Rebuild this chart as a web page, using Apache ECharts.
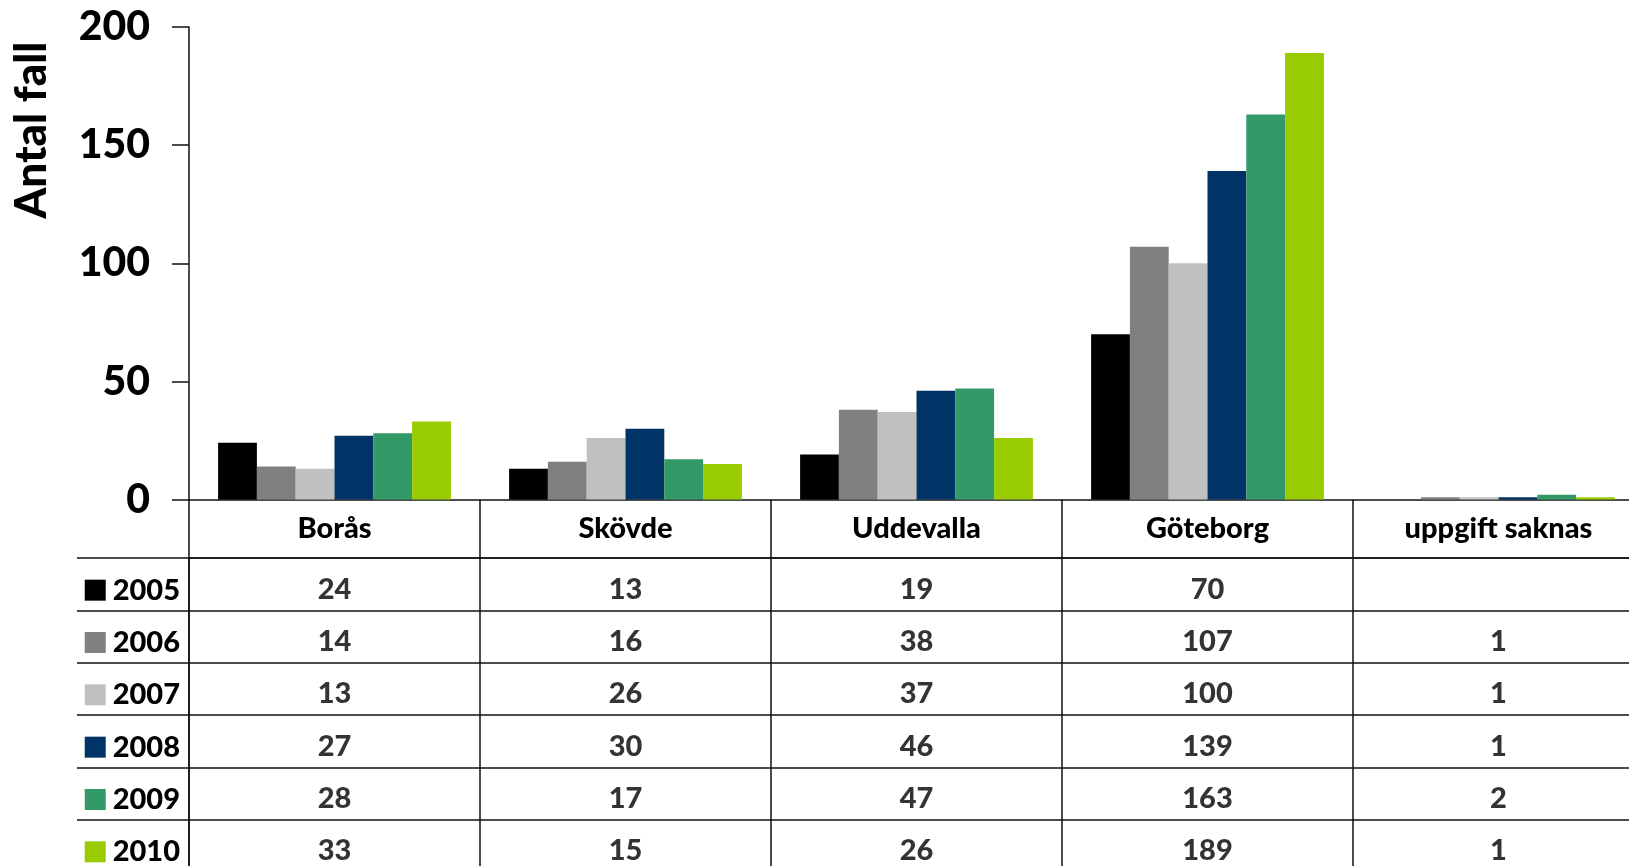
<!DOCTYPE html>
<html>
<head>
<meta charset="utf-8">
<script src="https://cdn.jsdelivr.net/npm/echarts@6.0.0/dist/echarts.min.js"></script>
<style>
  html, body { margin: 0; padding: 0; overflow: hidden; background: #fff; }
  #main { width: 1644px; height: 872px; }
</style>
</head>
<body>
<div id="main"></div>
<script>
// kategorier och värden
var categories = ['Borås', 'Skövde', 'Uddevalla', 'Göteborg', 'uppgift saknas'];
var years = ['2005', '2006', '2007', '2008', '2009', '2010'];
var v2005 = [24, 13, 19, 70, null];
var v2006 = [14, 16, 38, 107, 1];
var v2007 = [13, 26, 37, 100, 1];
var v2008 = [27, 30, 46, 139, 1];
var v2009 = [28, 17, 47, 163, 2];
var v2010 = [33, 15, 26, 189, 1];
var yTicks = [0, 50, 100, 150, 200];

var values = [v2005, v2006, v2007, v2008, v2009, v2010];
var colors = ['#000000', '#808080', '#c0c0c0', '#003366', '#339966', '#99cc00'];

var FONT = 'Lato';
var WEIGHT = 900;
var LINE = '#111';

var barSeries = years.map(function (y, i) {
    return {
        name: y,
        type: 'bar',
        xAxisIndex: 0,
        yAxisIndex: 0,
        barGap: '0%',
        barCategoryGap: '20%',
        itemStyle: { color: colors[i] },
        data: values[i]
    };
});

// tabellcellerna
var cells = [];
values.forEach(function (row, r) {
    row.forEach(function (v, c) {
        if (v != null) cells.push([c, r, v]);
    });
});

var rich = {
    s: { width: 7, height: 21 },
    t: { fontFamily: FONT, fontWeight: WEIGHT, fontSize: 29, color: '#000' }
};
colors.forEach(function (col, i) {
    rich['k' + i] = { width: 21, height: 21, backgroundColor: col };
});

var option = {
    animation: false,
    backgroundColor: '#fff',
    grid: [
        { left: 189, right: 0, top: 27, bottom: 372.5 },
        { left: 189, right: 0, top: 558, bottom: 0 }
    ],
    graphic: [{
        type: 'text',
        x: 32,
        y: 130,
        rotation: Math.PI / 2,
        style: {
            text: 'Antal fall',
            font: WEIGHT + ' 44px Lato',
            fill: '#000',
            align: 'center',
            verticalAlign: 'middle'
        }
    }],
    xAxis: [{
        type: 'category',
        gridIndex: 0,
        data: categories,
        axisLine: { lineStyle: { color: LINE, width: 1.5 } },
        axisTick: { show: true, length: 58.5, interval: 0, lineStyle: { color: LINE, width: 1.5 } },
        axisLabel: { interval: 0, margin: 15, fontFamily: FONT, fontWeight: WEIGHT, fontSize: 29, color: '#000' }
    }, {
        type: 'category',
        gridIndex: 1,
        position: 'top',
        data: categories,
        axisLine: { show: true, lineStyle: { color: LINE, width: 1.5 } },
        axisTick: { show: false },
        axisLabel: { show: false },
        splitLine: { show: true, interval: 0, lineStyle: { color: LINE, width: 1.5 } }
    }],
    yAxis: [{
        type: 'value',
        gridIndex: 0,
        min: yTicks[0],
        max: yTicks[yTicks.length - 1],
        interval: 50,
        axisLine: { show: true, lineStyle: { color: LINE, width: 1.5 } },
        axisTick: { show: true, length: 17, lineStyle: { color: LINE, width: 1.5 } },
        splitLine: { show: false },
        axisLabel: { margin: 39, fontFamily: FONT, fontWeight: WEIGHT, fontSize: 41, color: '#000' }
    }, {
        type: 'category',
        gridIndex: 1,
        inverse: true,
        data: years,
        axisLine: { show: true, lineStyle: { color: LINE, width: 1.5 } },
        axisTick: { show: true, length: 112, interval: 0, lineStyle: { color: LINE, width: 1.5 } },
        splitLine: { show: true, interval: 0, lineStyle: { color: LINE, width: 1.5 } },
        axisLabel: {
            interval: 0,
            margin: 9,
            padding: [12, 0, 0, 0],
            formatter: function (v, i) { return '{k' + i + '|}{s|}{t|' + v + '}'; },
            rich: rich
        }
    }, {
        type: 'category',
        gridIndex: 1,
        inverse: true,
        data: years,
        offset: 112,
        axisLine: { show: true, lineStyle: { color: LINE, width: 1.5 } },
        axisTick: { show: false },
        axisLabel: { show: false },
        splitLine: { show: false }
    }],
    series: barSeries.concat([{
        type: 'scatter',
        xAxisIndex: 1,
        yAxisIndex: 1,
        symbolSize: 1,
        itemStyle: { color: 'rgba(0,0,0,0)' },
        label: {
            show: true,
            position: 'inside',
            offset: [0, 5],
            formatter: function (p) { return p.value[2]; },
            fontFamily: FONT,
            fontWeight: WEIGHT,
            fontSize: 29,
            color: '#000'
        },
        data: cells
    }])
};

var chart = echarts.init(document.getElementById('main'));
chart.setOption(option);
</script>
</body>
</html>
